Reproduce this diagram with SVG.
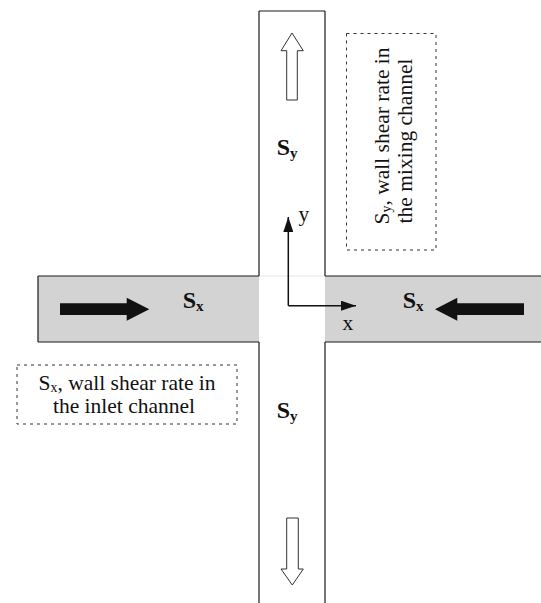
<svg xmlns="http://www.w3.org/2000/svg" width="541" height="603" viewBox="0 0 541 603">
<defs>
<style>
.ch{fill:#d3d3d3;stroke:none}
.ln{stroke:#1a1a1a;stroke-width:1.2;fill:none}
.hollow{fill:#fff;stroke:#333;stroke-width:1}
.solid{fill:#111;stroke:none}
.big{font-family:"Liberation Serif",serif;font-weight:bold;font-size:24px;fill:#111}
.sub{font-size:15px}
.lbl{font-family:"Liberation Serif",serif;font-size:21.5px;fill:#111}
.note{fill:none;stroke:#333;stroke-width:1;stroke-dasharray:3 4}
.ax{stroke:#111;stroke-width:1.5;fill:none}
</style>
<marker id="ah" viewBox="0 0 15 10" refX="15" refY="5" markerWidth="15" markerHeight="10" markerUnits="userSpaceOnUse" orient="auto">
<path d="M0,0 L15,5 L0,10 Z" fill="#111"/>
</marker>
</defs>
<rect width="541" height="603" fill="#fff"/>
<g id="channels">
<rect class="ch" x="38" y="276" width="221" height="66"/>
<rect class="ch" x="325" y="276" width="216" height="66"/>
<path class="ln" d="M38,276 H259 M38,342 H259 M38,276 V342 M325,276 H541 M325,342 H541"/>
<path d="M259,276 H325" stroke="#e6e6e6" stroke-width="1"/>
<path class="ln" d="M259,11 H325 M259,11 V276 M325,11 V276 M259,342 V603 M325,342 V603"/>
</g>
<g id="flow-arrows">
<path class="hollow" d="M286.7,100 V50.7 H281 L292,33 L303.3,50.7 H297.3 V100 Z"/>
<path class="hollow" d="M286.7,518 H298.3 V569 H303.3 L292.3,585 L281,569 H286.7 Z"/>
<path class="solid" d="M60,303.3 H126.7 V297.7 L149.3,309.2 L126.7,320.7 V315 H60 Z"/>
<path class="solid" d="M524,303.3 H457.3 V297.7 L435,309.2 L457.3,320.7 V315 H524 Z"/>
</g>
<g id="shear-labels">
<text class="big" x="276.7" y="155">S<tspan class="sub" dy="3">y</tspan></text>
<text class="big" x="276.7" y="418.3">S<tspan class="sub" dy="3">y</tspan></text>
<text class="big" x="182.7" y="308.3">S<tspan class="sub" dy="3">x</tspan></text>
<text class="big" x="402.7" y="308.3">S<tspan class="sub" dy="3">x</tspan></text>
</g>
<g id="axes">
<path class="ax" d="M288.3,305.7 V217" marker-end="url(#ah)"/>
<path class="ax" d="M288.3,305.7 H356" marker-end="url(#ah)"/>
<text class="lbl" x="298.5" y="221">y</text>
<text class="lbl" x="342.5" y="330">x</text>
</g>
<g id="note-inlet">
<rect class="note" x="17" y="365" width="220" height="59"/>
<text class="lbl" x="127" y="390" text-anchor="middle">S<tspan font-size="14" dy="2">x</tspan><tspan dy="-2">, wall shear rate in</tspan></text>
<text class="lbl" x="124" y="413" text-anchor="middle">the inlet channel</text>
</g>
<g id="note-mixing">
<rect class="note" x="346.5" y="33.5" width="89.5" height="216.5"/>
<text class="lbl" transform="translate(389,136) rotate(-90)" text-anchor="middle">S<tspan font-size="14" dy="2">y</tspan><tspan dy="-2">, wall shear rate in</tspan></text>
<text class="lbl" transform="translate(412,141) rotate(-90)" text-anchor="middle">the mixing channel</text>
</g>
</svg>
